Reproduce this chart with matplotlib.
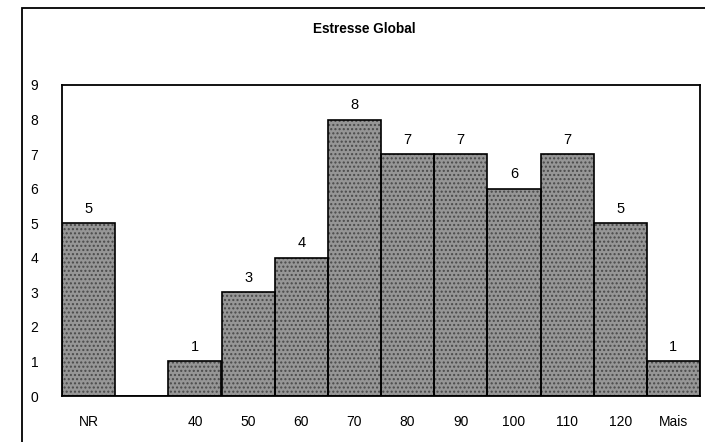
import matplotlib.pyplot as plt
import numpy as np
from matplotlib.patches import Rectangle

plt.rcParams['font.family'] = ['Liberation Sans', 'DejaVu Sans']

# categorias e contagens
categorias = ['NR', '', '40', '50', '60', '70', '80', '90', '100', '110', '120', 'Mais']
contagens = [5, 0, 1, 3, 4, 8, 7, 7, 6, 7, 5, 1]
titulo = 'Estresse Global'

fig = plt.figure(figsize=(7.05, 4.42), dpi=100, facecolor='w')

# moldura externa (tipo grafico do Excel)
fig.patches.append(Rectangle((22/705, -0.05), 1.0, 1 - 8/442 + 0.05,
                             transform=fig.transFigure, fill=False,
                             edgecolor='black', linewidth=1.3))

ax = fig.add_axes([62/705, 46/442, (700 - 62)/705, (395 - 84)/442])

x = np.arange(len(categorias))
# preenchimento pontilhado cinza, depois contorno preto por cima
ax.bar(x, contagens, width=1.0, color='#969696', edgecolor='#4a4a4a',
       linewidth=0, hatch='....')
ax.bar(x, contagens, width=1.0, fill=False, edgecolor='black', linewidth=1.2)
for xi, v in zip(x, contagens):
    if v > 0:
        ax.text(xi, v + 0.22, str(v), ha='center', va='bottom', fontsize=10.5)

ax.set_xlim(-0.5, len(categorias) - 0.5)
ax.set_ylim(0, 9)
ax.set_yticks(range(10))
ax.set_xticks(x)
ax.set_xticklabels(categorias, fontsize=10)
ax.tick_params(axis='both', length=0, labelsize=10)
ax.tick_params(axis='x', pad=14)
ax.tick_params(axis='y', pad=17)
for s in ax.spines.values():
    s.set_linewidth(1.3)

fig.text(364/705, 1 - 29/442, titulo, ha='center', va='center',
         fontsize=9.8, fontweight='bold')

fig.savefig('out.png', dpi=100)
